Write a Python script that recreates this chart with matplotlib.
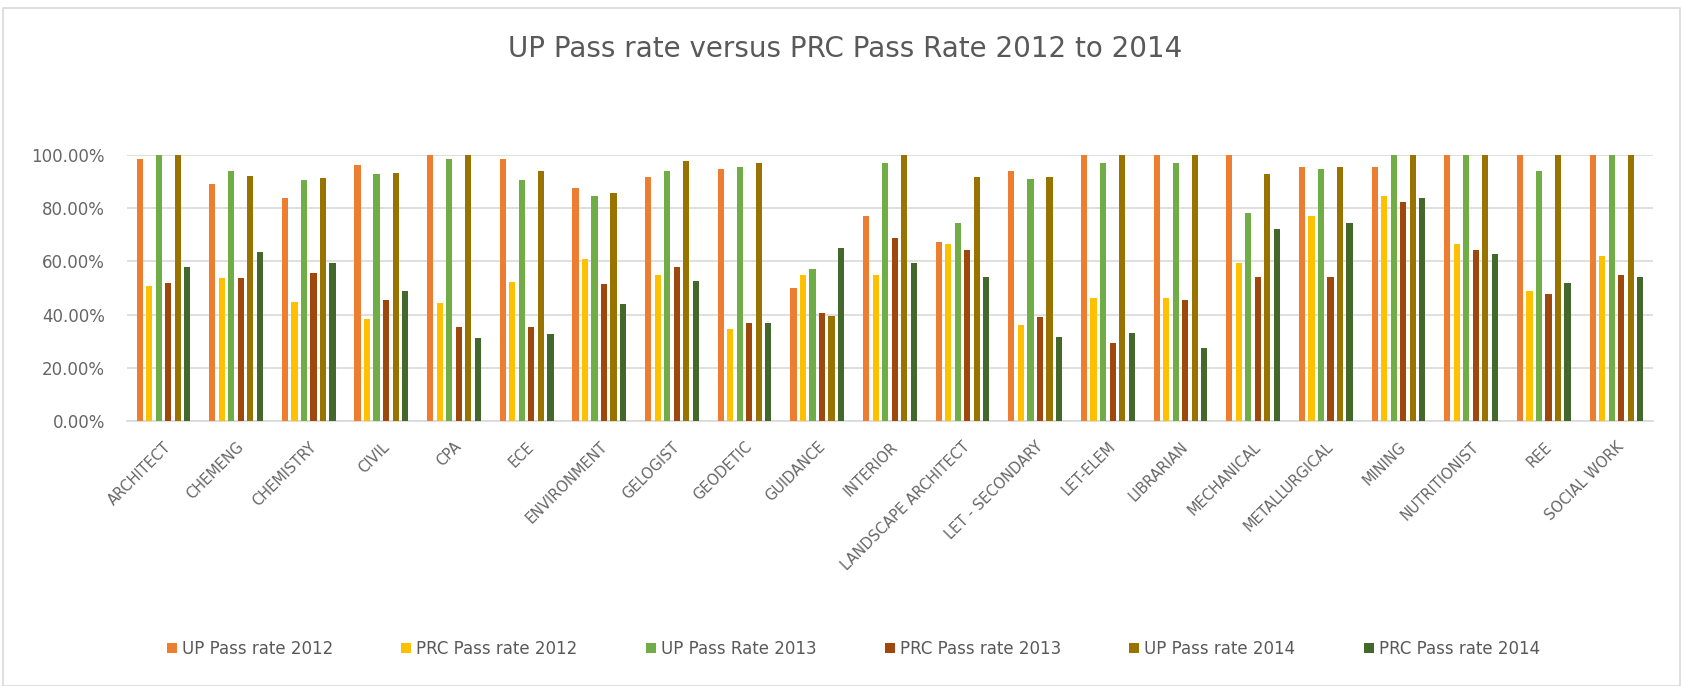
import numpy as np
import matplotlib.pyplot as plt
from matplotlib.patches import Rectangle

# Données (taux de réussite en %)
cours = ['ARCHITECT', 'CHEMENG', 'CHEMISTRY', 'CIVIL', 'CPA', 'ECE', 'ENVIRONMENT',
         'GELOGIST', 'GEODETIC', 'GUIDANCE', 'INTERIOR', 'LANDSCAPE ARCHITECT',
         'LET - SECONDARY', 'LET-ELEM', 'LIBRARIAN', 'MECHANICAL', 'METALLURGICAL',
         'MINING', 'NUTRITIONIST', 'REE', 'SOCIAL WORK']

up_2012 = [98.4, 89.1, 84.0, 96.2, 100, 98.4, 87.5, 91.9, 94.7, 49.9, 77.2,
           67.2, 94.0, 100, 100, 100, 95.6, 95.6, 100, 100, 100]
prc_2012 = [50.8, 53.6, 44.7, 38.3, 44.2, 52.1, 60.8, 54.9, 34.6, 54.9, 54.9,
            66.5, 36.1, 46.1, 46.1, 59.3, 77.2, 84.7, 66.5, 49.0, 62.2]
up_2013 = [100, 94.1, 90.6, 92.9, 98.4, 90.6, 84.7, 94.1, 95.6, 57.0, 97.1,
           74.6, 91.0, 97.1, 97.1, 78.1, 94.7, 100, 100, 94.1, 100]
prc_2013 = [52.0, 53.6, 55.8, 45.5, 35.5, 35.5, 51.5, 58.0, 36.7, 40.5, 68.7,
            64.3, 39.0, 29.4, 45.5, 54.3, 54.0, 82.2, 64.3, 47.7, 54.9]
up_2014 = [100, 92.1, 91.2, 93.4, 100, 94.1, 85.6, 97.7, 97.1, 39.6, 100,
           91.9, 91.9, 100, 100, 92.7, 95.6, 100, 100, 100, 100]
prc_2014 = [58.0, 63.7, 59.5, 49.0, 31.1, 32.6, 44.0, 52.8, 36.7, 65.2, 59.3,
            54.0, 31.5, 33.2, 27.3, 72.2, 74.6, 84.0, 62.8, 52.0, 54.3]

series = [
    ('UP Pass rate 2012', up_2012, '#ED7D31'),
    ('PRC Pass rate 2012', prc_2012, '#FFC000'),
    ('UP Pass Rate 2013', up_2013, '#70AD47'),
    ('PRC Pass rate 2013', prc_2013, '#9E480E'),
    ('UP Pass rate 2014', up_2014, '#997300'),
    ('PRC Pass rate 2014', prc_2014, '#43682B'),
]

fig = plt.figure(figsize=(16.83, 6.86), dpi=100)
ax = fig.add_axes([0.0755, 0.3863, 0.9065, 0.3877])

x = np.arange(len(cours))
pas = 0.131
largeur = 0.085
for i, (nom, valeurs, couleur) in enumerate(series):
    ax.bar(x + (i - 2.5) * pas, np.array(valeurs) / 100, largeur,
           color=couleur, label=nom, zorder=3)

# Axes
ax.set_xlim(-0.5, len(cours) - 0.5)
ax.set_ylim(0, 1.0)
ax.set_yticks(np.arange(0, 1.01, 0.2))
ax.set_yticklabels([f'{v * 100:.2f}%' for v in np.arange(0, 1.01, 0.2)],
                   fontsize=12, color='#666666')
ax.set_xticks(x)
ax.set_xticklabels(cours, rotation=45, ha='right', rotation_mode='anchor',
                   fontsize=10.5, color='#666666')
ax.tick_params(axis='y', length=0, pad=16)
ax.tick_params(axis='x', length=0, pad=13)
ax.yaxis.grid(True, color='#D9D9D9', linewidth=1.2, zorder=0)
for cote in ['top', 'right', 'left']:
    ax.spines[cote].set_visible(False)
ax.spines['bottom'].set_color('#D9D9D9')
ax.spines['bottom'].set_linewidth(1.2)

# Titre
fig.text(0.502, 0.928, 'UP Pass rate versus PRC Pass Rate 2012 to 2014',
         ha='center', va='center', fontsize=20, color='#595959')

# Légende
fig.legend(loc='center', bbox_to_anchor=(0.507, 0.054), ncol=6, frameon=False,
           fontsize=12, handlelength=0.6, handleheight=0.6, handletextpad=0.3,
           columnspacing=4.1, labelcolor='#595959')

# Cadre du graphique
fig.patches.append(Rectangle((0.002, 0.0), 0.996, 0.988, transform=fig.transFigure,
                             fill=False, edgecolor='#D9D9D9', linewidth=1.2))

plt.savefig('out.png', dpi=100)
